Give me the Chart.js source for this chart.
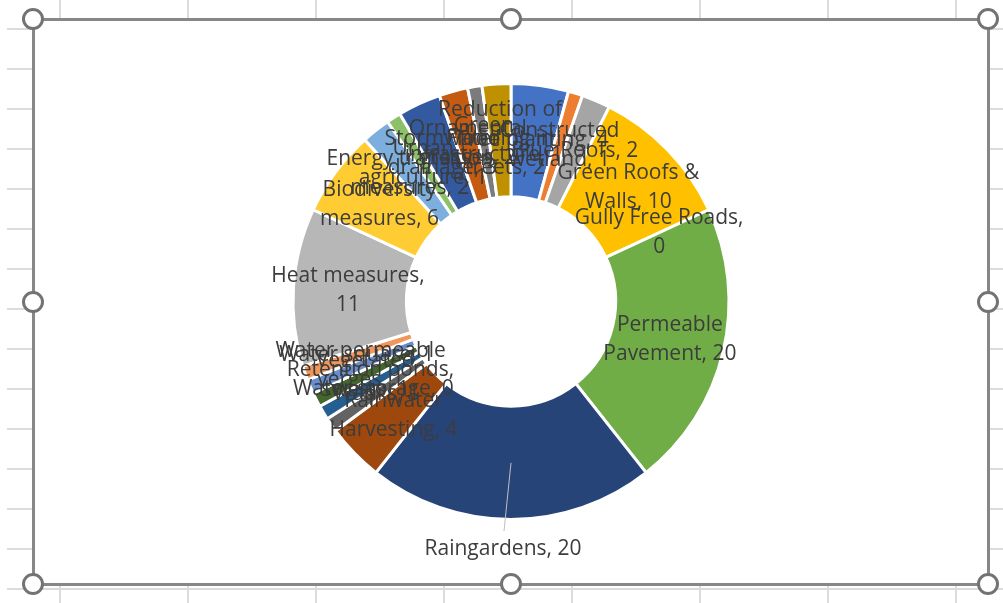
<!DOCTYPE html>
<html>
<head>
<meta charset="utf-8">
<title>Measures</title>
<script src="https://cdn.jsdelivr.net/npm/chart.js@4.4.1/dist/chart.umd.min.js"></script>
<style>
  html, body { margin: 0; padding: 0; width: 1003px; height: 603px; overflow: hidden; background: #ffffff; }
  #sheet {
    position: absolute; left: 7px; top: 0; width: 996px; height: 603px;
    background-image:
      linear-gradient(to right, #dcdcdc 2px, transparent 2px),
      linear-gradient(to bottom, #dcdcdc 2px, transparent 2px);
    background-size: 128px 100%, 100% 40px;
    background-position: 52px 0, 0 28px;
  }
  #frame {
    position: absolute; left: 32px; top: 18px; width: 952px; height: 562px;
    border: 3px solid #878787; background: #ffffff;
  }
  #frame canvas { position: absolute; left: 0; top: 0; }
  .handle {
    position: absolute; width: 16px; height: 16px; border-radius: 50%;
    border: 3px solid #737373; background: #ffffff; box-sizing: content-box;
  }
</style>
</head>
<body>
<div id="sheet"></div>
<div id="frame"><canvas id="chart" width="952" height="562"></canvas></div>
<div class="handle" style="left:22px;top:8px"></div>
<div class="handle" style="left:500px;top:8px"></div>
<div class="handle" style="left:977px;top:8px"></div>
<div class="handle" style="left:22px;top:291px"></div>
<div class="handle" style="left:977px;top:291px"></div>
<div class="handle" style="left:22px;top:573px"></div>
<div class="handle" style="left:500px;top:573px"></div>
<div class="handle" style="left:977px;top:573px"></div>
<script>
// Number of projects per adaptation measure
const categories = [
  "Tree planting",
  "Constructed wetland",
  "Blue Roofs",
  "Green Roofs & Walls",
  "Gully Free Roads",
  "Permeable Pavement",
  "Raingardens",
  "Rainwater Harvesting",
  "Wadi's",
  "Water storage",
  "Retention ponds",
  "Vegetated swales",
  "Water permeable verges",
  "Water square",
  "Heat measures",
  "Biodiversity measures",
  "Energy transition measures",
  "Urban agriculture",
  "Stormwater drainage",
  "Ornamental grasses",
  "Green infrastructure",
  "Reduction of Flooding in streets"
];
const counts = [4, 1, 2, 10, 0, 20, 20, 4, 1, 0, 1, 1, 1, 1, 11, 6, 2, 1, 3, 2, 1, 2];

// Office palette, one colour per slice
const sliceColors = [
  "#4472C4", "#ED7D31", "#A5A5A5", "#FFC000", "#5B9BD5", "#70AD47",
  "#264478", "#9E480E", "#636363", "#997300", "#255E91", "#43682B",
  "#698ED0", "#F1975A", "#B7B7B7", "#FFCD33", "#7CAFDD", "#8CC168",
  "#335AA1", "#C55A11", "#7B7B7B", "#BF9000"
];

// Slices whose label sits outside the ring with a leader line
const calloutSlices = ["Raingardens"];

function wrapText(ctx, text, maxWidth) {
  const words = text.split(" ");
  const lines = [];
  let line = "";
  words.forEach(w => {
    const test = line ? line + " " + w : w;
    if (line && ctx.measureText(test).width > maxWidth) {
      lines.push(line);
      line = w;
    } else {
      line = test;
    }
  });
  if (line) lines.push(line);
  return lines;
}

const sliceLabels = {
  id: "sliceLabels",
  afterDatasetsDraw(chart, args, opts) {
    const ctx = chart.ctx;
    const meta = chart.getDatasetMeta(0);
    ctx.save();
    ctx.font = opts.size + "px " + opts.family;
    ctx.textAlign = "center";
    ctx.textBaseline = "middle";
    meta.data.forEach((arc, i) => {
      const p = arc.getProps(["x", "y", "startAngle", "endAngle", "innerRadius", "outerRadius"], true);
      const mid = (p.startAngle + p.endAngle) / 2;
      const text = chart.data.labels[i] + ", " + chart.data.datasets[0].data[i];
      const lines = wrapText(ctx, text, opts.maxWidth);
      const midR = (p.innerRadius + p.outerRadius) / 2;
      let cx, cy;
      if (calloutSlices.includes(chart.data.labels[i])) {
        const r = p.outerRadius + opts.calloutGap;
        cx = p.x + r * Math.cos(mid) - 8;
        cy = p.y + r * Math.sin(mid);
        ctx.strokeStyle = opts.leaderColor;
        ctx.lineWidth = 1;
        ctx.beginPath();
        ctx.moveTo(p.x + midR * Math.cos(mid), p.y + midR * Math.sin(mid));
        ctx.lineTo(cx + 1, cy - lines.length * opts.lineHeight / 2 - 4);
        ctx.stroke();
      } else {
        cx = p.x + (midR + opts.radialShift) * Math.cos(mid);
        cy = p.y + (midR + opts.radialShift) * Math.sin(mid);
      }
      ctx.fillStyle = opts.color;
      const top = cy - (lines.length - 1) * opts.lineHeight / 2;
      lines.forEach((ln, k) => ctx.fillText(ln, cx, top + k * opts.lineHeight));
    });
    ctx.restore();
  }
};

new Chart(document.getElementById("chart"), {
  type: "doughnut",
  data: {
    labels: categories,
    datasets: [{
      data: counts,
      backgroundColor: sliceColors,
      borderColor: "#ffffff",
      borderWidth: 3,
      hoverOffset: 0
    }]
  },
  options: {
    responsive: false,
    animation: false,
    cutout: "48%",
    layout: { padding: { top: 61, bottom: 62, left: 0, right: 0 } },
    plugins: {
      legend: { display: false },
      tooltip: { enabled: false },
      title: { display: false },
      sliceLabels: {
        family: "'Open Sans', sans-serif",
        size: 21,
        lineHeight: 29,
        maxWidth: 173,
        radialShift: 2,
        color: "#3c3c3c",
        calloutGap: 30,
        leaderColor: "#bfbfbf"
      }
    }
  },
  plugins: [sliceLabels]
});
</script>
</body>
</html>
